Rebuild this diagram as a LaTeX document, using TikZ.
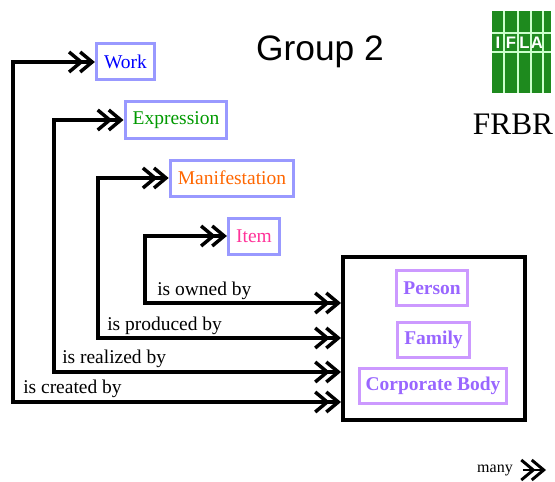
\documentclass[tikz,border=0pt]{standalone}
\usepackage{fontspec}
\setmainfont{Liberation Serif}
\newfontfamily\grpfont{Liberation Sans}
\usetikzlibrary{arrows.meta}
\definecolor{entborder}{HTML}{9999FF}
\definecolor{agentcol}{HTML}{9966FF}
\definecolor{agentborder}{HTML}{CC99FF}
\definecolor{exprgreen}{HTML}{009900}
\definecolor{maniforange}{HTML}{FF6600}
\definecolor{itempink}{HTML}{FF3399}
\definecolor{iflagreen}{HTML}{1E8A1E}
\tikzset{manytip/.tip={Straight Barb[length=9pt,width=15pt,sep=-4pt] Straight Barb[length=9pt,width=15pt]}}
\begin{document}
\begin{tikzpicture}[x=0.75pt,y=-0.75pt,
  entity/.style={draw=entborder,line width=2.25pt,inner xsep=5.8pt,minimum height=27pt,font=\fontsize{14.6}{17}\selectfont},
  agent/.style={draw=agentborder,line width=2.25pt,inner xsep=5pt,minimum height=26pt,text=agentcol,font=\fontsize{14.6}{17}\selectfont\bfseries},
  rel/.style={line width=2.6pt,manytip-manytip},
  lbl/.style={anchor=base west,inner xsep=0pt,font=\fontsize{14.6}{17}\selectfont}]
\useasboundingbox (0,0) rectangle (555,481);
% title and logo
\node[font=\grpfont\fontsize{26.5}{30}\selectfont] (title) at (320,52) {Group 2};
\node[font=\fontsize{23.5}{26}\selectfont] (frbr) at (513,124) {FRBR};
\fill[iflagreen] (492,11) rectangle (551,93);
\foreach \x in {504,518,531,543} \draw[white!80!green,line width=0.8pt] (\x,11) -- (\x,93);
\foreach \y in {33,52} \draw[white!80!green,line width=0.8pt] (492,\y) -- (551,\y);
\foreach \t/\x in {I/498,F/511,L/524.5,A/537}
  \node[text=white,font=\grpfont\bfseries\fontsize{12.5}{12.5}\selectfont] at (\x,42.5) {\t};
% group 1 entities
\node[entity,text=blue] (work) at (125.5,62) {Work};
\node[entity,text=exprgreen] (expr) at (176,120) {Expression};
\node[entity,text=maniforange] (manif) at (232,178) {Manifestation};
\node[entity,text=itempink] (item) at (254,236) {Item};
% group 2 entities
\node[draw,line width=3pt,inner sep=0pt,minimum width=136.5pt,minimum height=122.25pt] (group) at (434,338.5) {};
\node[agent] (person) at (432,288) {Person};
\node[agent] (family) at (433.5,340) {Family};
\node[agent] (corp) at (433,386) {Corporate Body};
% relationships
\coordinate (c1) at (13,402);
\coordinate (c2) at (54,372);
\coordinate (c3) at (98,338);
\coordinate (c4) at (145,303);
\draw[rel] (work.west) -| (c1) -- (c1 -| group.west);
\draw[rel] (expr.west) -| (c2) -- (c2 -| group.west);
\draw[rel] (manif.west) -| (c3) -- (c3 -| group.west);
\draw[rel] (item.west) -| (c4) -- (c4 -| group.west);
\node[lbl] (created) at (23,393) {is created by};
\node[lbl] (realized) at (62,363) {is realized by};
\node[lbl] (produced) at (107,330) {is produced by};
\node[lbl] (owned) at (157,295) {is owned by};
% legend
\node[font=\fontsize{12}{14}\selectfont] (many) at (495,470) {many};
\coordinate (manyend) at (546,470);
\draw[line width=2.2pt,-manytip] ([xshift=4pt]many.east) -- (manyend);
\end{tikzpicture}
\end{document}
